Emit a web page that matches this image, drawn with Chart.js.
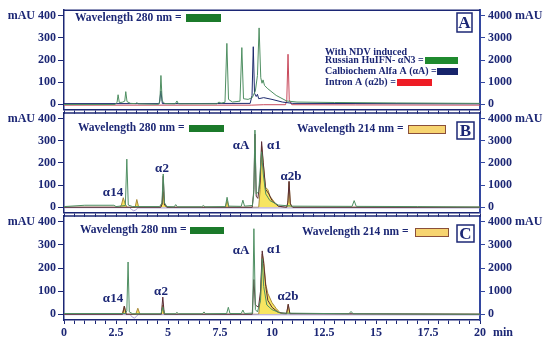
<!DOCTYPE html>
<html>
<head>
<meta charset="utf-8">
<script src="https://cdn.jsdelivr.net/npm/chart.js@4.4.1/dist/chart.umd.min.js"></script>
<style>
body { margin: 0; background: #fff; }
#wrap { position: relative; width: 550px; height: 344px; }
canvas { position: absolute; left: 0; }
</style>
</head>
<body>
<div id="wrap">
  <canvas id="panelC" width="550" height="144" style="top:200px"></canvas>
  <canvas id="panelB" width="550" height="123" style="top:100px"></canvas>
  <canvas id="panelA" width="550" height="120" style="top:0px"></canvas>
</div>
<script>
/* tick labels */
const timeLabels = [0, 2.5, 5, 7.5, 10, 12.5, 15, 17.5, 20];
const leftTicks = [0, 100, 200, 300, 400];
const rightTicks = [0, 1000, 2000, 3000, 4000];

/* PANEL A - 280 nm, mAU (left axis), [min, mAU] */
const aNdv = [[0,-1],[2.45,-1],[2.55,8],[2.6,43],[2.66,8],[2.8,9],[2.92,14],[2.97,57],[3.03,12],[3.2,4],[3.45,3],[3.5,7],[3.58,2],
  [4.55,0],[4.61,14],[4.66,130],[4.72,15],[4.85,3],[5.35,2],[5.43,15],[5.5,2],[7.35,2],[7.45,10],[7.55,5],[7.74,9],[7.83,275],
  [7.91,22],[8.1,10],[8.46,14],[8.55,256],[8.63,25],[8.85,22],[9.05,30],[9.2,60],[9.3,130],[9.38,345],[9.46,120],[9.52,95],
  [9.57,110],[9.64,85],[9.8,70],[10.2,40],[10.7,15],[11.2,10],[13,8],[16,6],[20,4]];
const aCalbiochem = [[0,3],[4.58,3],[4.66,60],[4.73,3],[8.95,4],[9.04,40],[9.1,260],[9.16,50],[9.24,35],[9.3,45],[9.36,25],
  [9.6,30],[10,22],[10.5,10],[11,4],[20,2]];
const aIntron = [[0,-4],[9.0,-4],[9.6,-2],[10.65,-2],[10.71,20],[10.77,226],[10.83,20],[10.95,-2],[14,-3],[20,-4]];

/* PANEL B - 280 nm (left axis) and 214 nm (right axis) */
const bGreen280 = [[0,3],[1.0,9],[2.4,9],[2.5,3],[2.95,8],[3.02,217],[3.09,10],[3.3,3],[4.6,3],[4.71,20],[4.77,150],[4.83,20],
  [4.95,3],[5.3,2],[5.37,12],[5.45,2],[6.62,2],[6.7,8],[6.78,2],[7.76,3],[7.84,45],[7.92,5],[8.52,4],[8.6,32],[8.68,5],
  [9.06,8],[9.12,60],[9.18,348],[9.24,60],[9.36,70],[9.5,250],[9.58,150],[9.7,60],[9.9,30],[10.3,10],[11,5],
  [13.85,4],[13.95,30],[14.05,4],[17,3],[20,1]];
const bDark280 = [[0,0],[4.65,0],[4.72,15],[4.77,140],[4.83,10],[4.95,0],[9.05,0],[9.13,80],[9.18,330],[9.24,50],[9.32,40],
  [9.43,120],[9.5,296],[9.58,200],[9.7,80],[9.85,60],[10.0,30],[10.3,5],[10.7,0],[10.76,20],[10.82,117],[10.88,15],[11,0],[20,0]];
const bDip = [[0,-2],[3.15,-2],[3.25,-10],[3.35,-16],[3.45,-12],[3.55,-3],[20,-3]];
const bYellow214 = [[0,0],[2.68,0],[2.76,100],[2.85,430],[2.94,150],[3.04,0],[3.42,0],[3.5,350],[3.59,0],[4.66,0],[4.72,200],
  [4.77,700],[4.83,150],[4.95,0],[7.76,0],[7.84,300],[7.92,0],[9.36,0],[9.43,800],[9.5,2750],[9.58,2000],[9.68,900],
  [9.8,800],[9.9,500],[10.1,250],[10.3,50],[10.5,0],[10.72,0],[10.77,300],[10.82,1150],[10.88,200],[10.95,0],[20,0]];

/* PANEL C - 280 nm (left axis) and 214 nm (right axis) */
const cGreen280 = [[0,3],[2.95,3],[3.02,15],[3.08,226],[3.14,10],[3.3,2],[4.66,2],[4.75,30],[4.84,2],[5.35,2],[5.43,8],[5.5,2],
  [6.65,2],[6.73,10],[6.8,2],[7.82,3],[7.9,30],[7.98,3],[8.52,3],[8.6,18],[8.68,3],[9.07,5],[9.13,370],[9.2,20],[9.3,10],
  [9.45,60],[9.53,240],[9.6,120],[9.75,40],[10.0,20],[10.4,5],[13.7,2],[13.8,12],[13.9,2],[20,0]];
const cDark280 = [[0,0],[2.82,0],[2.9,35],[2.98,0],[4.68,0],[4.75,74],[4.82,0],[9.05,0],[9.13,150],[9.2,40],[9.35,30],
  [9.45,100],[9.53,274],[9.6,220],[9.7,120],[9.8,60],[10.0,30],[10.3,8],[10.7,3],[10.78,43],[10.86,3],[20,0]];
const cDip = [[0,-2],[3.18,-2],[3.28,-12],[3.38,-17],[3.48,-10],[3.55,-2],[20,-3]];
const cYellow214 = [[0,0],[2.8,0],[2.9,350],[3.0,0],[3.45,0],[3.55,260],[3.65,0],[4.68,0],[4.75,400],[4.82,0],[9.36,0],
  [9.45,800],[9.53,2600],[9.6,2300],[9.7,1300],[9.8,900],[10.0,500],[10.2,250],[10.4,50],[10.6,0],[10.7,0],[10.78,430],
  [10.86,0],[20,0]];

const NAVY = '#1c2775';
const BLUE_AXIS = '#3347a0';
Chart.defaults.font.family = "'Liberation Serif', serif";
Chart.defaults.font.weight = 'bold';
Chart.defaults.font.size = 12;
Chart.defaults.color = NAVY;

function pts(list) { return list.map(p => ({x: p[0], y: p[1]})); }

function trace(list, color, axis, extra) {
  return Object.assign({data: pts(list), borderColor: color, borderWidth: 1, pointRadius: 0,
    fill: false, yAxisID: axis}, extra || {});
}

/* texts, swatches and frame drawn on top */
const notesPlugin = {
  id: 'notes',
  afterDraw(chart, args, o) {
    const c = chart.ctx, off = o.offset || 0;
    const a = chart.chartArea;
    c.save();
    c.strokeStyle = NAVY;
    c.lineWidth = 1.5;
    c.beginPath();
    c.moveTo(a.left, a.top);
    c.lineTo(a.right, a.top);
    c.stroke();
    (o.items || []).forEach(it => {
      if (it.t === 'text') {
        c.font = it.font || "bold 12px 'Liberation Serif'";
        c.fillStyle = it.color || NAVY;
        c.textAlign = it.align || 'left';
        c.textBaseline = 'middle';
        c.fillText(it.s, it.x, it.y - off);
      } else if (it.t === 'rect') {
        c.fillStyle = it.fill;
        c.fillRect(it.x, it.y - off, it.w, it.h);
        if (it.stroke) {
          c.strokeStyle = it.stroke; c.lineWidth = 1;
          c.strokeRect(it.x + 0.5, it.y - off + 0.5, it.w - 1, it.h - 1);
        }
      } else if (it.t === 'letter') {
        c.fillStyle = '#fff';
        c.fillRect(it.x, it.y - off, it.w, it.h);
        c.strokeStyle = NAVY; c.lineWidth = 1.5;
        c.strokeRect(it.x, it.y - off, it.w, it.h);
        c.font = "bold 17px 'Liberation Serif'";
        c.fillStyle = NAVY;
        c.textAlign = 'center';
        c.textBaseline = 'middle';
        c.fillText(it.s, it.x + it.w / 2, it.y - off + it.h / 2 + 1);
      }
    });
    c.restore();
  }
};

function makePanel(id, top, datasets, items, padTop, xHeight, showLabels) {
  return new Chart(document.getElementById(id), {
    type: 'line',
    data: {datasets: datasets},
    options: {
      responsive: false,
      animation: false,
      layout: {padding: {top: padTop, left: 0, right: 0, bottom: 0}},
      scales: {
        x: {type: 'linear', min: 0, max: 20,
          afterFit: s => { s.height = xHeight; },
          grid: {drawOnChartArea: false, tickLength: 4, color: NAVY},
          border: {color: NAVY, width: 1.5},
          ticks: {stepSize: 0.5, autoSkip: false, maxRotation: 0, padding: 2,
            callback: v => (showLabels && timeLabels.includes(v)) ? String(v) : ''}},
        y: {position: 'left', min: -25, max: 425,
          afterFit: s => { s.width = 64; },
          afterBuildTicks: s => { s.ticks = leftTicks.map(v => ({value: v})); },
          grid: {drawOnChartArea: false, tickLength: 6, color: NAVY},
          border: {color: NAVY, width: 1.5},
          ticks: {padding: 2, callback: v => v === 400 ? 'mAU 400' : String(v)}},
        y2: {position: 'right', min: -250, max: 4250,
          afterFit: s => { s.width = 70; },
          afterBuildTicks: s => { s.ticks = rightTicks.map(v => ({value: v})); },
          grid: {drawOnChartArea: false, tickLength: 5, color: BLUE_AXIS},
          border: {color: BLUE_AXIS, width: 2},
          ticks: {padding: 3, callback: v => v === 4000 ? '4000 mAU' : String(v)}}
      },
      plugins: {legend: {display: false}, tooltip: {enabled: false},
        notes: {offset: top, items: items}}
    },
    plugins: [notesPlugin]
  });
}

const wlFont = "bold 11.5px 'Liberation Serif'";
const lgFont = "bold 10px 'Liberation Serif'";
const pkFont = "bold 13px 'Liberation Serif'";

/* GRAFICA A */
makePanel('panelA', 0, [
  trace(aNdv, '#4f8f62', 'y'),
  trace(aCalbiochem, '#1d2a6e', 'y'),
  trace(aIntron, '#c84a5c', 'y')
], [
  {t: 'text', s: 'Wavelength 280 nm =', x: 75, y: 18, font: wlFont},
  {t: 'rect', x: 186, y: 14, w: 35, h: 8, fill: '#1b7a2a'},
  {t: 'letter', s: 'A', x: 457, y: 13, w: 15, h: 19},
  {t: 'text', s: 'With NDV induced', x: 325, y: 52, font: lgFont},
  {t: 'text', s: 'Russian HuIFN- \u03b1N3 =', x: 325, y: 60, font: lgFont},
  {t: 'rect', x: 425, y: 57, w: 33, h: 7, fill: '#1f8a2e'},
  {t: 'text', s: 'Calbiochem Alfa A (\u03b1A) =', x: 325, y: 71, font: lgFont},
  {t: 'rect', x: 437, y: 68, w: 21, h: 7, fill: '#17246b'},
  {t: 'text', s: 'Intron A (\u03b12b) =', x: 325, y: 82, font: lgFont},
  {t: 'rect', x: 397, y: 79, w: 35, h: 7, fill: '#ee1c25'}
], 9, 7, false);

/* GRAFICA B */
makePanel('panelB', 100, [
  trace(bGreen280, '#4f8f62', 'y'),
  trace(bDark280, '#5a2c34', 'y'),
  trace(bDip, '#a89bd4', 'y'),
  trace(bYellow214, '#a88a3c', 'y2', {fill: 'origin', backgroundColor: 'rgba(246,226,80,0.9)'})
], [
  {t: 'text', s: 'Wavelength 280 nm =', x: 78, y: 128, font: wlFont},
  {t: 'rect', x: 189, y: 125, w: 35, h: 7, fill: '#1b7a2a'},
  {t: 'text', s: 'Wavelength 214 nm =', x: 297, y: 129, font: wlFont},
  {t: 'rect', x: 408, y: 125, w: 38, h: 9, fill: '#f7d470', stroke: '#8a4f3a'},
  {t: 'letter', s: 'B', x: 457, y: 122, w: 17, h: 17},
  {t: 'text', s: '\u03b114', x: 113, y: 193, font: pkFont, align: 'center'},
  {t: 'text', s: '\u03b12', x: 162, y: 169, font: pkFont, align: 'center'},
  {t: 'text', s: '\u03b1A', x: 241, y: 146, font: pkFont, align: 'center'},
  {t: 'text', s: '\u03b11', x: 274, y: 146, font: pkFont, align: 'center'},
  {t: 'text', s: '\u03b12b', x: 291, y: 177, font: pkFont, align: 'center'}
], 13, 7, false);

/* GRAFICA C */
makePanel('panelC', 200, [
  trace(cGreen280, '#4f8f62', 'y'),
  trace(cDark280, '#5a2c34', 'y'),
  trace(cDip, '#a89bd4', 'y'),
  trace(cYellow214, '#a88a3c', 'y2', {fill: 'origin', backgroundColor: 'rgba(246,226,80,0.9)'})
], [
  {t: 'text', s: 'Wavelength 280 nm =', x: 80, y: 230, font: wlFont},
  {t: 'rect', x: 190, y: 227, w: 34, h: 7, fill: '#1b7a2a'},
  {t: 'text', s: 'Wavelength 214 nm =', x: 302, y: 232, font: wlFont},
  {t: 'rect', x: 415, y: 228, w: 34, h: 9, fill: '#f7d470', stroke: '#8a4f3a'},
  {t: 'letter', s: 'C', x: 457, y: 225, w: 17, h: 17},
  {t: 'text', s: '\u03b114', x: 113, y: 299, font: pkFont, align: 'center'},
  {t: 'text', s: '\u03b12', x: 161, y: 292, font: pkFont, align: 'center'},
  {t: 'text', s: '\u03b1A', x: 241, y: 251, font: pkFont, align: 'center'},
  {t: 'text', s: '\u03b11', x: 274, y: 250, font: pkFont, align: 'center'},
  {t: 'text', s: '\u03b12b', x: 288, y: 297, font: pkFont, align: 'center'},
  {t: 'text', s: 'min', x: 493, y: 333, font: "bold 12px 'Liberation Serif'"}
], 16, 24, true);
</script>
</body>
</html>
